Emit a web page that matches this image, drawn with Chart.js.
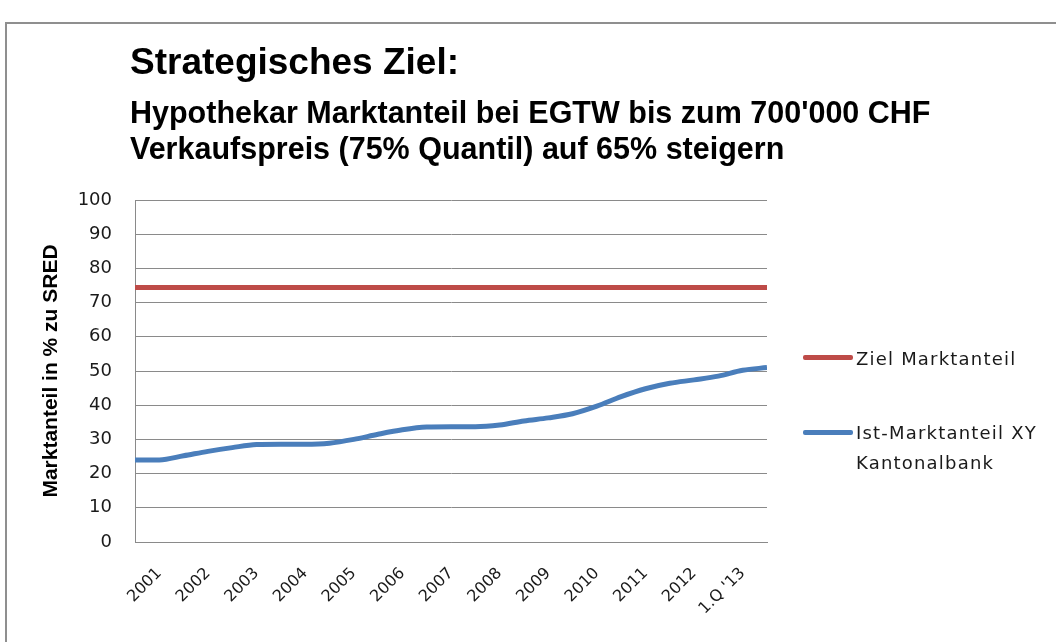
<!DOCTYPE html>
<html>
<head>
<meta charset="utf-8">
<script src="https://cdn.jsdelivr.net/npm/chart.js@4.4.1/dist/chart.umd.min.js"></script>
<style>
  html, body { margin: 0; padding: 0; background: #ffffff; }
  #wrap { position: relative; width: 1056px; height: 642px; overflow: hidden; background: #fff; }
  #frame { position: absolute; left: 5px; top: 22px; width: 1100px; height: 700px;
           border-left: 2px solid #8f8f8f; border-top: 2px solid #8f8f8f; box-sizing: border-box; }
  canvas { position: absolute; left: 0; top: 0; }
  .t { position: absolute; white-space: nowrap; color: #000; font-family: "Liberation Sans", Arial, sans-serif; font-weight: bold; line-height: 1; }
  .leg-line { position: absolute; height: 5px; width: 50px; border-radius: 2px; }
  .leg-text { position: absolute; white-space: nowrap; font-family: "DejaVu Sans", sans-serif; font-size: 18px;
              line-height: 30px; letter-spacing: 1.2px; color: #1a1a1a; }
</style>
</head>
<body>
<div id="wrap">
  <div id="frame"></div>
  <canvas id="c" width="1056" height="642"></canvas>
  <div class="t" id="title" style="left:130px; top:43px; font-size:37px;">Strategisches Ziel:</div>
  <div class="t" id="sub1" style="left:130px; top:96.5px; font-size:30.5px;">Hypothekar Marktanteil bei EGTW bis zum 700'000 CHF</div>
  <div class="t" id="sub2" style="left:130px; top:133px; font-size:30.5px;">Verkaufspreis (75% Quantil) auf 65% steigern</div>
  <div id="legend"></div>
</div>
<script>
// ---- data ----
const categories = ['2001','2002','2003','2004','2005','2006','2007','2008','2009','2010','2011','2012',"1.Q '13"];
const yTickValues = [0,10,20,30,40,50,60,70,80,90,100];
// positions on the time axis in category units (0 = start of 2001, 13 = end of 1.Q '13)
const istPositions = [0,0.5,1,1.5,2,2.5,3,3.5,4,4.5,5,5.5,6,6.5,7,7.5,8,8.5,9,9.5,10,10.5,11,11.5,12,12.5,13];
const istValues    = [24.0,24.0,25.2,26.5,27.6,28.5,28.6,28.6,28.9,30.0,31.5,32.8,33.6,33.7,33.7,34.2,35.4,36.3,37.5,39.7,42.5,44.8,46.4,47.4,48.5,50.2,51.0];
const zielPositions = [0,13];
const zielValues    = [74.4,74.4];
const seriesNames = ['Ziel Marktanteil', ['Ist-Marktanteil XY','Kantonalbank']];
const seriesColors = ['#BE4B48', '#4A7EBB'];

const gridColor = '#8a8a8a';

const ctx = document.getElementById('c').getContext('2d');
new Chart(ctx, {
  type: 'line',
  data: {
    datasets: [
      {
        label: 'Ziel Marktanteil',
        data: zielPositions.map((p, i) => ({x: p, y: zielValues[i]})),
        borderColor: seriesColors[0],
        borderWidth: 5,
        pointRadius: 0,
        fill: false
      },
      {
        label: 'Ist-Marktanteil XY Kantonalbank',
        data: istPositions.map((p, i) => ({x: p, y: istValues[i]})),
        borderColor: seriesColors[1],
        borderWidth: 5,
        pointRadius: 0,
        cubicInterpolationMode: 'monotone',
        fill: false
      }
    ]
  },
  options: {
    responsive: false,
    animation: false,
    devicePixelRatio: 1,
    layout: { padding: { top: 200, right: 289, bottom: 0, left: 30 } },
    plugins: {
      legend: { display: false },
      tooltip: { enabled: false },
      title: { display: false }
    },
    scales: {
      x: {
        type: 'linear',
        min: 0,
        max: categories.length,
        afterBuildTicks: (scale) => { scale.ticks = categories.map((c, i) => ({ value: i + 0.5 })); },
        afterFit: (scale) => { scale.height = 100; },
        ticks: {
          autoSkip: false,
          minRotation: 45,
          maxRotation: 45,
          padding: 22,
          color: '#1a1a1a',
          font: { family: 'DejaVu Sans', size: 16 },
          callback: (v, i) => categories[i]
        },
        grid: { display: false, drawTicks: false },
        border: { display: true, color: gridColor, width: 1 }
      },
      y: {
        min: 0,
        max: 100,
        afterBuildTicks: (scale) => { scale.ticks = yTickValues.map(v => ({ value: v })); },
        afterFit: (scale) => { scale.width = 105; },
        ticks: {
          padding: 23,
          color: '#1a1a1a',
          font: { family: 'DejaVu Sans', size: 18 },
          callback: (v) => String(v)
        },
        grid: { color: gridColor, lineWidth: 1, drawTicks: false },
        border: { display: true, color: gridColor, width: 1 },
        title: {
          display: true,
          text: 'Marktanteil in % zu SRED',
          color: '#000',
          font: { family: 'Liberation Sans', size: 21, weight: 'bold' },
          padding: { top: 9, bottom: 0 }
        }
      }
    }
  }
});

// ---- legend (HTML) ----
const legend = document.getElementById('legend');
const legendLayout = [ { lineTop: 354.5, textTop: 343.8 }, { lineTop: 430, textTop: 418.1 } ];
seriesNames.forEach((name, i) => {
  const ln = document.createElement('div');
  ln.className = 'leg-line';
  ln.style.left = '803px';
  ln.style.top = legendLayout[i].lineTop + 'px';
  ln.style.background = seriesColors[i];
  legend.appendChild(ln);
  const tx = document.createElement('div');
  tx.className = 'leg-text';
  tx.style.left = '856px';
  tx.style.top = legendLayout[i].textTop + 'px';
  tx.innerHTML = (Array.isArray(name) ? name : [name]).join('<br>');
  legend.appendChild(tx);
});
</script>
</body>
</html>
